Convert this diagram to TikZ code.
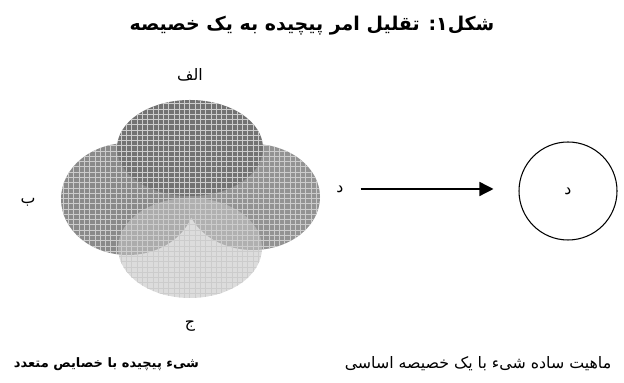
\documentclass[tikz,border=0pt]{standalone}
\usepackage{fontspec}
\newfontfamily\farsi[Script=Arabic]{DejaVu Sans}
\TeXXeTstate=1
\usetikzlibrary{arrows.meta, patterns, shapes.geometric, positioning}
\definecolor{alefc}{HTML}{727272}
\definecolor{bec}{HTML}{8A8A8A}
\definecolor{dalc}{HTML}{939393}
\definecolor{jimc}{HTML}{C4C4C4}

\begin{document}
\begin{tikzpicture}[
  venn/.style={ellipse, inner sep=0pt, preaction={fill=#1}, pattern=grid,
               pattern color=black!20},
  lbl/.style={font=\farsi\fontsize{9}{11}\selectfont, inner sep=1pt},
  ttl/.style={font=\farsi\bfseries\fontsize{10.8}{13}\selectfont}]
  \useasboundingbox (0,0) rectangle (12.48,7.66);
  % title
  \node[ttl] (title) at (6.24,7.14) {\beginR شکل۱: تقلیل امر پیچیده به یک خصیصه\endR};
  % complex object
  \node[venn=bec, minimum width=2.68cm, minimum height=2.24cm] (be) at (2.56,3.68) {};
  \node[venn=dalc, minimum width=2.68cm, minimum height=2.12cm] (dal) at (5.06,3.72) {};
  \node[venn=alefc, minimum width=2.92cm, minimum height=1.92cm] (alef) at (3.80,4.70) {};
  \node[venn=jimc, fill opacity=0.6, minimum width=2.88cm, minimum height=2.0cm] (jim) at (3.80,2.70) {};
  \node[lbl] (alefL) at (3.80,6.16) {الف};
  \node[lbl] (beL) at (0.56,3.62) {ب};
  \node[lbl] (jimL) at (3.80,1.14) {ج};
  \node[lbl] (dalL) at (6.80,3.88) {د};
  % simple essence
  \node[draw, circle, line width=0.6pt, minimum size=1.96cm] (simple) at (11.36,3.84) {};
  \node[lbl] (simpleL) at (simple) {د};
  \draw[-{Triangle[length=0.28cm, width=0.28cm]}, line width=0.8pt,
        shorten <=0.3cm, shorten >=0.5cm] (dalL.east) -- (dalL.east -| simple.west);
  % captions
  \node[lbl, font=\farsi\bfseries\fontsize{7.4}{9}\selectfont] (complexT) at (2.13,0.38)
    {\beginR شیء پیچیده با خصایص متعدد\endR};
  \node[lbl] (simpleT) at (9.56,0.38) {\beginR ماهیت ساده شیء با یک خصیصه اساسی\endR};
\end{tikzpicture}
\end{document}
